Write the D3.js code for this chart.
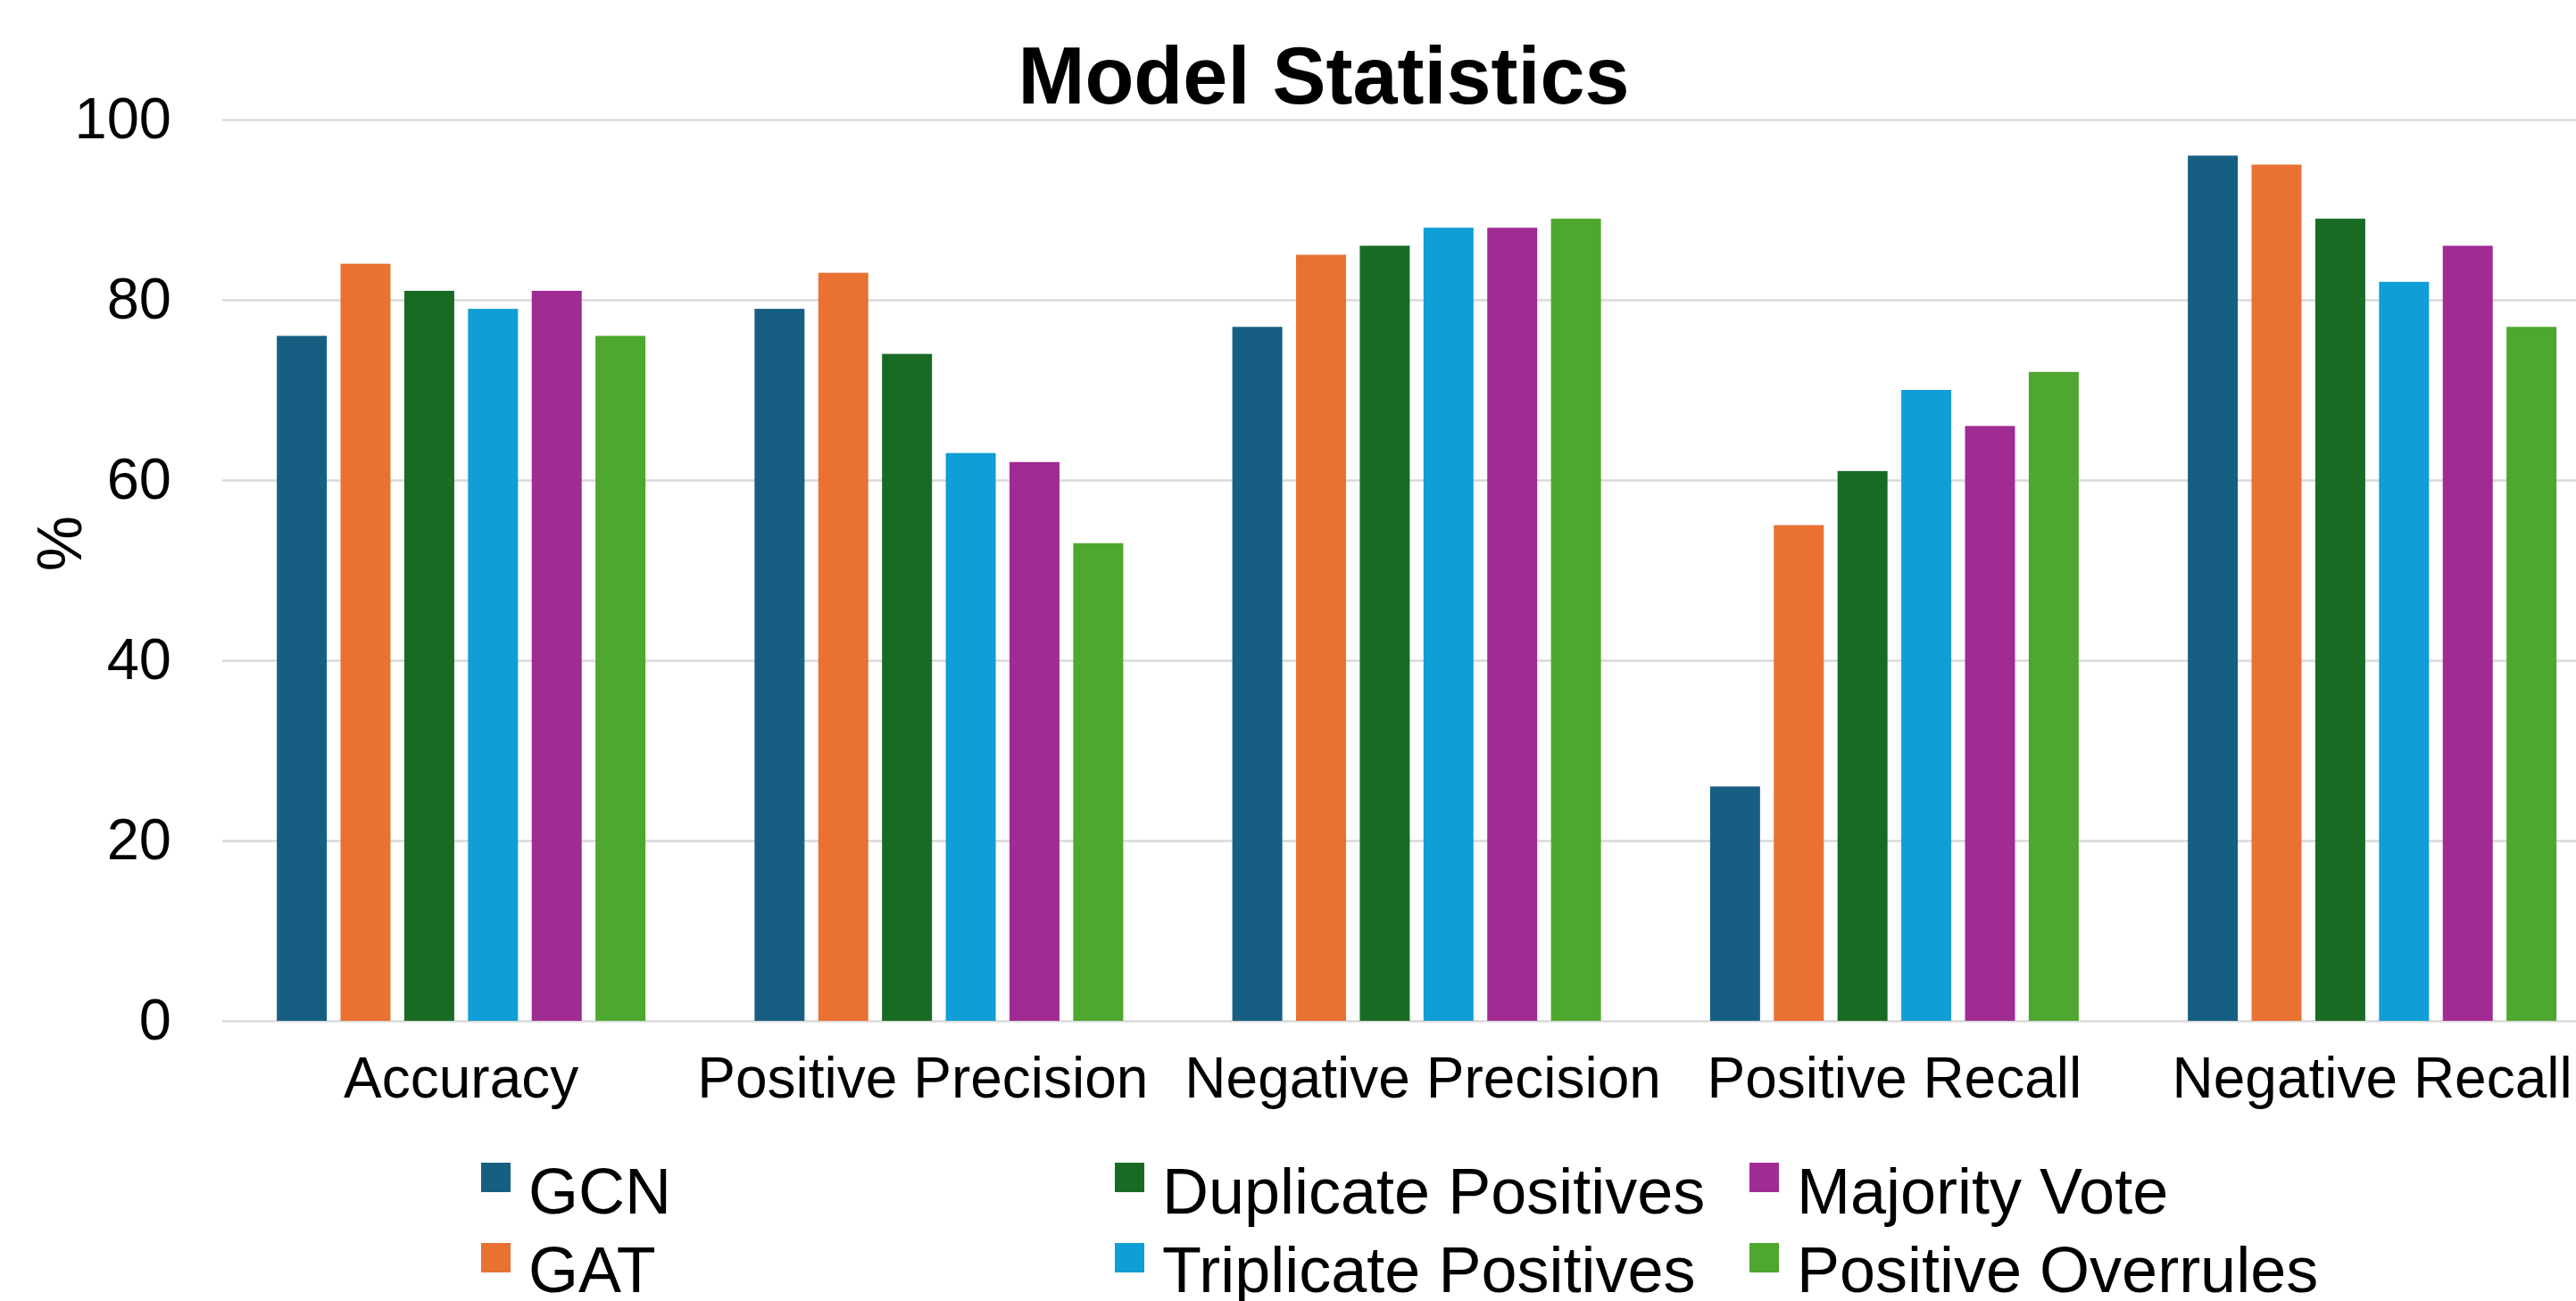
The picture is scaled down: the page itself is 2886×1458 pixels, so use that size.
<!DOCTYPE html>
<html>
<head>
<meta charset="utf-8">
<script src="https://cdn.jsdelivr.net/npm/d3@7"></script>
<style>
  html, body { margin: 0; padding: 0; background: #ffffff; }
  svg { display: block; }
  text { font-family: "Liberation Sans", Arial, sans-serif; fill: #000; }
</style>
</head>
<body>
<svg id="chart" width="2886" height="1458"></svg>
<script>
const categories = ["Accuracy", "Positive Precision", "Negative Precision", "Positive Recall", "Negative Recall"];
const seriesNames = ["GCN", "GAT", "Duplicate Positives", "Triplicate Positives", "Majority Vote", "Positive Overrules"];
const seriesColors = ["#175F82", "#E97132", "#196B24", "#0F9ED5", "#A02B93", "#4EA72E"];
const gcnValues = [76, 79, 77, 26, 96];
const gatValues = [84, 83, 85, 55, 95];
const duplicateValues = [81, 74, 86, 61, 89];
const triplicateValues = [79, 63, 88, 70, 82];
const majorityValues = [81, 62, 88, 66, 86];
const overrulesValues = [76, 53, 89, 72, 77];
const yTicks = [0, 20, 40, 60, 80, 100];

const seriesValues = [gcnValues, gatValues, duplicateValues, triplicateValues, majorityValues, overrulesValues];

const W = 2886, H = 1458;
const plotLeft = 249, plotRight = 2886, bandW = 535.25;
const svg = d3.select("#chart");

const x0 = d3.scaleBand().domain(categories).range([plotLeft, plotLeft + bandW * categories.length]).padding(0);
const x1 = d3.scaleBand().domain(seriesNames).range([0, bandW]).paddingInner(0.216).paddingOuter(0.856);
const y = d3.scaleLinear().domain([0, 100]).range([1144, 134]);

// y axis with gridlines
const yAxis = svg.append("g")
  .attr("transform", `translate(${plotLeft},0)`)
  .call(d3.axisLeft(y).tickValues(yTicks).tickSize(-(plotRight - plotLeft)).tickPadding(57));
yAxis.select(".domain").remove();
yAxis.selectAll(".tick line").attr("stroke", "#D9D9D9").attr("stroke-width", 2.5);
yAxis.selectAll(".tick text").attr("font-size", 65).attr("font-family", "Liberation Sans, Arial, sans-serif").attr("fill", "#000");

// bars
const groups = svg.append("g").selectAll("g")
  .data(categories)
  .join("g")
  .attr("transform", d => `translate(${x0(d)},0)`);
groups.selectAll("rect")
  .data((c, ci) => seriesNames.map((s, si) => ({ s, si, v: seriesValues[si][ci] })))
  .join("rect")
  .attr("x", d => x1(d.s))
  .attr("width", x1.bandwidth())
  .attr("y", d => y(d.v))
  .attr("height", d => y(0) - y(d.v))
  .attr("fill", d => seriesColors[d.si]);

// x axis labels (long neighbouring labels nudged apart, as in the original)
const labelNudge = { "Positive Precision": -18, "Negative Precision": 7 };
const xAxis = svg.append("g")
  .attr("transform", `translate(0,${y(0)})`)
  .call(d3.axisBottom(x0).tickSize(0).tickPadding(41));
xAxis.select(".domain").remove();
xAxis.selectAll(".tick text")
  .attr("font-size", 64)
  .attr("font-family", "Liberation Sans, Arial, sans-serif")
  .attr("fill", "#000")
  .attr("dx", d => labelNudge[d] || 0);

// title
svg.append("text")
  .attr("x", 1483).attr("y", 116)
  .attr("text-anchor", "middle")
  .attr("font-size", 90).attr("font-weight", "bold")
  .text("Model Statistics");

// y label
svg.append("text")
  .attr("transform", "translate(91,609) rotate(-90)")
  .attr("text-anchor", "middle")
  .attr("font-size", 70)
  .text("%");

// legend (column-major, 2 rows)
const legendCols = [539, 1249, 1960];
const legendRowsTop = [1303, 1393];
const legendRowsBase = [1360, 1448];
const legend = svg.append("g").selectAll("g")
  .data(seriesNames)
  .join("g");
legend.append("rect")
  .attr("x", (d, i) => legendCols[Math.floor(i / 2)])
  .attr("y", (d, i) => legendRowsTop[i % 2])
  .attr("width", 33).attr("height", 33)
  .attr("fill", (d, i) => seriesColors[i]);
legend.append("text")
  .attr("x", (d, i) => legendCols[Math.floor(i / 2)] + 53)
  .attr("y", (d, i) => legendRowsBase[i % 2])
  .attr("font-size", 72)
  .text(d => d);
</script>
</body>
</html>
